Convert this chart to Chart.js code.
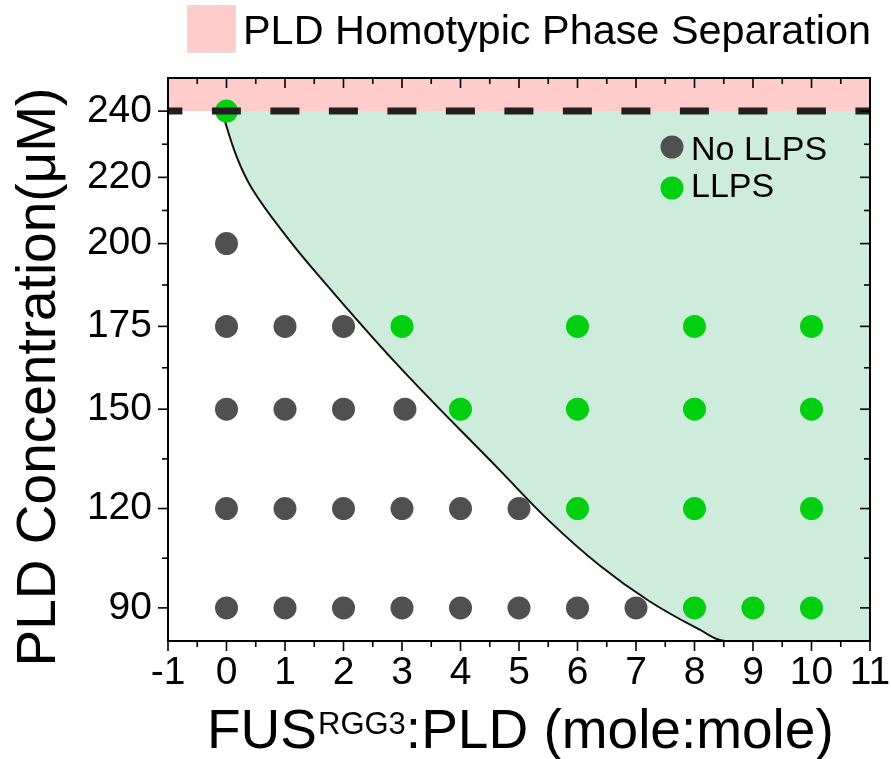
<!DOCTYPE html>
<html>
<head>
<meta charset="utf-8">
<script src="https://cdn.jsdelivr.net/npm/chart.js@4.4.0/dist/chart.umd.min.js"></script>
<style>
  html, body { margin: 0; padding: 0; background: #fff; }
  #wrap { width: 891px; height: 759px; }
</style>
</head>
<body>
<div id="wrap"><canvas id="c"></canvas></div>
<script>
// axis ticks
const xTicks = [-1, 0, 1, 2, 3, 4, 5, 6, 7, 8, 9, 10, 11];
const xMinor = [-0.5, 0.5, 1.5, 2.5, 3.5, 4.5, 5.5, 6.5, 7.5, 8.5, 9.5, 10.5];
const yTicks = [90, 120, 150, 175, 200, 220, 240];
const yMinor = [105, 135, 162.5, 187.5, 210, 230];

// No LLPS samples (ratio, concentration)
const noRatio = [0, 1, 2, 3, 4, 5, 6, 7, 0, 1, 2, 3, 4, 5, 0, 1, 2, 3.05, 0, 1, 2, 0];
const noConc  = [90, 90, 90, 90, 90, 90, 90, 90, 120, 120, 120, 120, 120, 120, 150, 150, 150, 150, 175, 175, 175, 200];

// LLPS samples
const yesRatio = [0, 3, 6, 8, 10, 4, 6, 8, 10, 6, 8, 10, 8, 9, 10];
const yesConc  = [240, 175, 175, 175, 175, 150, 150, 150, 150, 120, 120, 120, 90, 90, 90];

// phase boundary
const boundaryX = [-0.08, 0.17, 0.44, 1.03, 1.59, 2.96, 4.67, 5.52, 6.38, 7.23, 8.09, 8.52, 11];
const boundaryY = [240, 226.4, 216.5, 202, 190, 162.7, 131.6, 116.2, 102.8, 92, 83.4, 80, 80];

// homotypic phase separation limit
const homotypicLimit = 240;
const homotypicTop = 250;

const pts = (xs, ys) => xs.map((v, i) => ({ x: v, y: ys[i] }));

const GRAY = '#505050';
const GREEN = '#00d010';
const FONT = '"Liberation Sans", Arial, sans-serif';

const decor = {
  id: 'decor',
  afterDraw(chart) {
    const { ctx, chartArea: a, scales: { x, y } } = chart;
    ctx.save();
    ctx.strokeStyle = '#000';
    const line = (x1, y1, x2, y2) => { ctx.beginPath(); ctx.moveTo(x1, y1); ctx.lineTo(x2, y2); ctx.stroke(); };

    // ticks
    ctx.lineWidth = 1.6;
    xTicks.forEach(v => {
      const p = x.getPixelForValue(v);
      line(p, a.bottom, p, a.bottom + 10);
      line(p, a.top, p, a.top + 10);
    });
    xMinor.forEach(v => {
      const p = x.getPixelForValue(v);
      line(p, a.bottom, p, a.bottom + 6);
      line(p, a.top, p, a.top + 6);
    });
    yTicks.forEach(v => {
      const p = y.getPixelForValue(v);
      line(a.left - 10, p, a.left, p);
      line(a.right - 10, p, a.right, p);
    });
    yMinor.forEach(v => {
      const p = y.getPixelForValue(v);
      line(a.left - 6, p, a.left, p);
      line(a.right - 6, p, a.right, p);
    });

    // frame
    ctx.lineWidth = 2;
    ctx.strokeRect(a.left, a.top, a.right - a.left, a.bottom - a.top);

    ctx.fillStyle = '#000';
    ctx.textBaseline = 'alphabetic';

    // x title with superscript
    ctx.textAlign = 'left';
    let cx = 207;
    ctx.font = '55px ' + FONT;
    ctx.fillText('FUS', cx, 748);
    cx += ctx.measureText('FUS').width + 1;
    ctx.font = '31px ' + FONT;
    ctx.fillText('RGG3', cx, 734);
    cx += ctx.measureText('RGG3').width;
    ctx.font = '55px ' + FONT;
    ctx.fillText(':PLD (mole:mole)', cx, 748);

    // y title
    ctx.save();
    ctx.translate(55, 377);
    ctx.rotate(-Math.PI / 2);
    ctx.textAlign = 'center';
    ctx.font = '55px ' + FONT;
    ctx.fillText('PLD Concentration(\u03bcM)', 0, 0);
    ctx.restore();

    // top legend
    ctx.fillStyle = '#ffcccc';
    ctx.fillRect(187, 5, 49, 48);
    ctx.strokeStyle = '#eadada';
    ctx.lineWidth = 1;
    ctx.strokeRect(187.5, 5.5, 48, 47);
    ctx.fillStyle = '#000';
    ctx.textAlign = 'left';
    ctx.font = '41.4px ' + FONT;
    ctx.fillText('PLD Homotypic Phase Separation', 243, 44);

    // inner legend
    [[GRAY, 'No LLPS', 147, 160], [GREEN, 'LLPS', 188, 197]].forEach(([c, t, cy, by]) => {
      ctx.fillStyle = c;
      ctx.beginPath();
      ctx.arc(672, cy, 11.5, 0, Math.PI * 2);
      ctx.fill();
      ctx.fillStyle = '#000';
      ctx.font = '34px ' + FONT;
      ctx.fillText(t, 691, by);
    });
    ctx.restore();
  }
};

new Chart(document.getElementById('c'), {
  type: 'scatter',
  data: {
    datasets: [
      {
        label: 'limit',
        type: 'line',
        data: [{ x: -1, y: homotypicLimit }, { x: 11, y: homotypicLimit }],
        borderColor: '#231f20',
        borderWidth: 7,
        borderDash: [29, 29.5],
        borderDashOffset: 14.6,
        borderCapStyle: 'butt',
        pointRadius: 0,
        fill: false
      },
      {
        label: 'LLPS',
        data: pts(yesRatio, yesConc),
        backgroundColor: GREEN,
        borderWidth: 0,
        pointRadius: 11.5
      },
      {
        label: 'No LLPS',
        data: pts(noRatio, noConc),
        backgroundColor: GRAY,
        borderWidth: 0,
        pointRadius: 11.5
      },
      {
        label: 'boundary',
        type: 'line',
        data: pts(boundaryX, boundaryY),
        borderColor: '#111',
        borderWidth: 2,
        tension: 0.4,
        pointRadius: 0,
        fill: { value: homotypicLimit },
        backgroundColor: '#cdecdb'
      },
      {
        label: 'PLD Homotypic Phase Separation',
        type: 'line',
        data: [{ x: -1, y: homotypicTop }, { x: 11, y: homotypicTop }],
        borderWidth: 0,
        pointRadius: 0,
        fill: { value: homotypicLimit },
        backgroundColor: '#ffcccc'
      }
    ]
  },
  options: {
    responsive: true,
    maintainAspectRatio: false,
    animation: false,
    layout: { padding: { top: 78, right: 21, left: 0, bottom: 0 } },
    plugins: {
      legend: { display: false },
      tooltip: { enabled: false }
    },
    scales: {
      x: {
        type: 'linear',
        min: -1,
        max: 11,
        afterBuildTicks: s => { s.ticks = xTicks.map(v => ({ value: v })); },
        afterFit: s => { s.height = 118; s.paddingLeft = 0; s.paddingRight = 0; },
        grid: { display: false, drawTicks: false },
        border: { display: false },
        ticks: {
          color: '#000',
          font: { family: FONT, size: 39 },
          padding: 9,
          maxRotation: 0,
          autoSkip: false
        }
      },
      y: {
        type: 'linear',
        min: 80,
        max: 250,
        afterBuildTicks: s => { s.ticks = yTicks.map(v => ({ value: v })); },
        afterFit: s => { s.width = 168; s.paddingTop = 0; s.paddingBottom = 0; },
        grid: { display: false, drawTicks: false },
        border: { display: false },
        ticks: {
          color: '#000',
          font: { family: FONT, size: 39 },
          padding: 16,
          autoSkip: false
        }
      }
    }
  },
  plugins: [decor]
});
</script>
</body>
</html>
